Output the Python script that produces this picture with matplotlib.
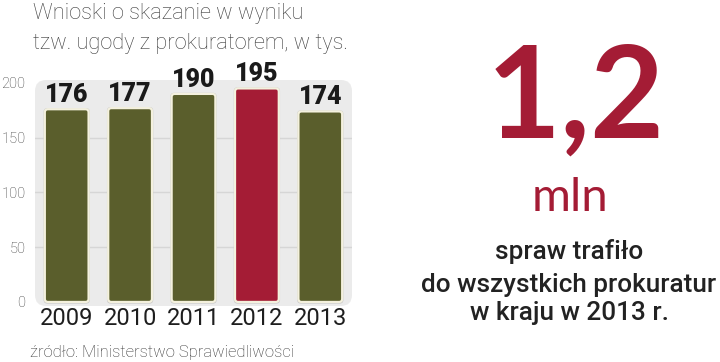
import matplotlib
matplotlib.use("Agg")
import matplotlib.pyplot as plt
from matplotlib.patches import FancyBboxPatch

years = ["2009", "2010", "2011", "2012", "2013"]
values = [176, 177, 190, 195, 174]
highlight = "2012"
yticks = [0, 50, 100, 150, 200]

title_lines = ["Wnioski o skazanie w wyniku", "tzw. ugody z prokuratorem, w tys."]
source = "źródło: Ministerstwo Sprawiedliwości"
big_number = "1,2"
big_unit = "mln"
big_desc = ["spraw trafiło", "do wszystkich prokuratur", "w kraju w 2013 r."]

OLIVE = "#5a5e2c"
RED = "#a41c35"
PANEL = "#ebebeb"

fig = plt.figure(figsize=(7.2, 3.62), dpi=100)
W, H = 720, 362

def fx(px):
    return px / W

def fy(py):
    return 1 - py / H

ax = fig.add_axes([fx(35), fy(306), fx(352) - fx(35), fy(80) - fy(306)])
ax.set_xlim(-0.5, 4.5)
ax.set_ylim(-3.7, 202.7)
ax.set_facecolor("none")
for s in ax.spines.values():
    s.set_visible(False)

# rounded panel
panel = FancyBboxPatch((0, 0), 1, 1, boxstyle="round,pad=0,rounding_size=0.035",
                       transform=ax.transAxes, facecolor=PANEL, edgecolor="none",
                       mutation_aspect=317 / 226, zorder=0)
ax.add_patch(panel)
for t in yticks[1:-1]:
    ax.axhline(t, color="#d6d6d6", lw=1.0, zorder=1)

x = list(range(len(years)))
colors = [RED if y == highlight else OLIVE for y in years]
bars = ax.bar(x, values, width=0.69, color=colors, alpha=0)

px_per_x = 317 / 5.0
px_per_y = 226 / 206.4
aspect = px_per_x / px_per_y
for b, c in zip(bars, colors):
    # soft shadow
    sh = FancyBboxPatch((b.get_x() - 0.02, b.get_y() - 1.5), b.get_width() + 0.04, b.get_height() + 2.5,
                        boxstyle="round,pad=0,rounding_size=0.06", mutation_aspect=aspect,
                        facecolor="#c8c8c8", edgecolor="none", zorder=2)
    ax.add_patch(sh)
    p = FancyBboxPatch((b.get_x(), b.get_y()), b.get_width(), b.get_height(),
                       boxstyle="round,pad=0,rounding_size=0.05", mutation_aspect=aspect,
                       facecolor=c, edgecolor="#f4f1de", lw=1.6, zorder=3)
    ax.add_patch(p)
    ax.annotate(str(int(b.get_height())), (b.get_x() + b.get_width() / 2, b.get_height()),
                xytext=(0, 5), textcoords="offset points", ha="center", va="baseline",
                fontsize=18, fontweight="black", family="Roboto", color="#1a1a1a", zorder=4)

ax.set_xticks(x)
ax.set_xticklabels(years, fontsize=17, family="Roboto", color="#1e1e1e")
ax.set_yticks(yticks)
ax.set_yticklabels([str(t) for t in yticks], fontsize=10.5, family="Roboto", fontweight="light", color="#3a3a3a")
ax.tick_params(axis="both", length=0)
ax.tick_params(axis="y", pad=7)
ax.tick_params(axis="x", pad=1)

# title
fig.text(fx(33), fy(14), title_lines[0], fontsize=15.7, family="Roboto", fontweight="light",
         color="#3c3c3c", ha="left", va="center")
fig.text(fx(33), fy(43), title_lines[1], fontsize=15.7, family="Roboto", fontweight="light",
         color="#3c3c3c", ha="left", va="center")
# source
fig.text(fx(30), fy(352), source, fontsize=12, family="Roboto", fontweight="light",
         color="#333333", ha="left", va="center")

# right side
fig.text(fx(576), fy(138), big_number, fontsize=92, family="Lato", fontweight="bold",
         color=RED, ha="center", va="baseline")
fig.text(fx(570), fy(211), big_unit, fontsize=34, family="Lato", fontweight="normal",
         color=RED, ha="center", va="baseline")
for txt, yy in zip(big_desc, [252, 285, 313]):
    fig.text(fx(569), fy(yy), txt, fontsize=18.8, family="Roboto", fontweight="medium",
             color="#222222", ha="center", va="center")

fig.savefig("out.png", dpi=100)
